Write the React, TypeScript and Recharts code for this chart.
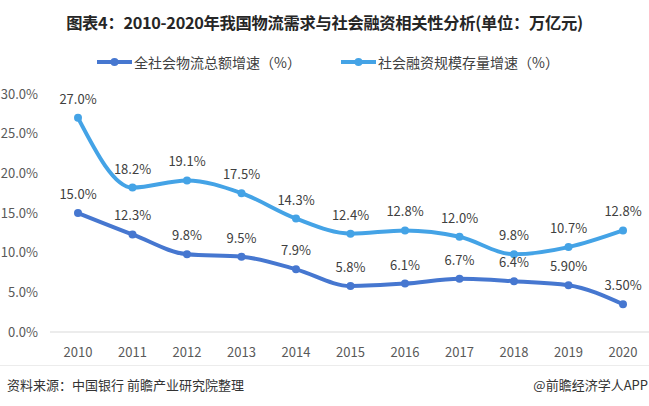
import React from "react";
import { LineChart, Line, XAxis, YAxis, LabelList } from "recharts";

const years = ["2010", "2011", "2012", "2013", "2014", "2015", "2016", "2017", "2018", "2019", "2020"];
const logisticsGrowth = [15.0, 12.3, 9.8, 9.5, 7.9, 5.8, 6.1, 6.7, 6.4, 5.9, 3.5];
const logisticsLabels = ["15.0%", "12.3%", "9.8%", "9.5%", "7.9%", "5.8%", "6.1%", "6.7%", "6.4%", "5.90%", "3.50%"];
const financingGrowth = [27.0, 18.2, 19.1, 17.5, 14.3, 12.4, 12.8, 12.0, 9.8, 10.7, 12.8];
const financingLabels = ["27.0%", "18.2%", "19.1%", "17.5%", "14.3%", "12.4%", "12.8%", "12.0%", "9.8%", "10.7%", "12.8%"];
const yTicks = [0, 5, 10, 15, 20, 25, 30];

const seriesNames = ["全社会物流总额增速（%）", "社会融资规模存量增速（%）"];
const titleText = "图表4：2010-2020年我国物流需求与社会融资相关性分析(单位：万亿元)";
const sourceText = "资料来源：中国银行 前瞻产业研究院整理";
const brandText = "@前瞻经济学人APP";

const data = years.map((y, i) => ({
  year: y,
  a: logisticsGrowth[i],
  aLabel: logisticsLabels[i],
  b: financingGrowth[i],
  bLabel: financingLabels[i],
}));

const C1 = "#4677D0";
const C2 = "#44A3E6";
const FONT = "'Noto Sans CJK SC', 'Noto Sans', sans-serif";

const makeLabel = (labels: string[]) => (props: any) => {
  const { x, y, index } = props;
  return (
    <text x={x} y={y - 14} textAnchor="middle" fontSize={13} fill="#404040" fontFamily={FONT}>
      {labels[index]}
    </text>
  );
};

const LegendItem = ({ color, text, left }: { color: string; text: string; left: number }) => (
  <div style={{ position: "absolute", left, top: 52, height: 20, display: "flex", alignItems: "center" }}>
    <svg width={36} height={12}>
      <line x1={0} y1={6} x2={35} y2={6} stroke={color} strokeWidth={4} />
      <circle cx={17.5} cy={6} r={4} fill={color} />
    </svg>
    <span style={{ fontSize: 14, lineHeight: "20px", color: "#404040", fontFamily: FONT, marginLeft: 1 }}>{text}</span>
  </div>
);

export default function App() {
  return (
    <div style={{ position: "absolute", left: 0, top: 0, width: 649, height: 406, background: "#fff", fontFamily: FONT }}>
      <div
        style={{
          position: "absolute",
          top: 10,
          left: 0,
          width: 649,
          height: 24,
          lineHeight: "24px",
          textAlign: "center",
          fontSize: 16.3,
          fontWeight: 700,
          color: "#262626",
          letterSpacing: -0.3,
        }}
      >
        {titleText}
      </div>
      <LegendItem color={C1} text={seriesNames[0]} left={97} />
      <LegendItem color={C2} text={seriesNames[1]} left={341} />
      <LineChart width={649} height={406} data={data} margin={{ top: 94, right: 0, left: 0, bottom: 44 }}>
        <XAxis
          dataKey="year"
          padding={{ left: 28, right: 26 }}
          axisLine={{ stroke: "#d9d9d9" }}
          tickLine={false}
          tickMargin={10}
          tick={{ fontSize: 13, fill: "#595959", fontFamily: FONT }}
          interval={0}
        />
        <YAxis
          width={50}
          domain={[0, 30]}
          ticks={yTicks}
          axisLine={false}
          tickLine={false}
          tickSize={0}
          tickMargin={12}
          tick={{ fontSize: 13, fill: "#595959", fontFamily: FONT }}
          tickFormatter={(v: number) => v.toFixed(1) + "%"}
        />
        <Line
          type="monotone"
          dataKey="b"
          stroke={C2}
          strokeWidth={4}
          dot={{ r: 4, fill: C2, stroke: C2, strokeWidth: 0 }}
          isAnimationActive={false}
        >
          <LabelList dataKey="bLabel" content={makeLabel(financingLabels)} />
        </Line>
        <Line
          type="monotone"
          dataKey="a"
          stroke={C1}
          strokeWidth={4}
          dot={{ r: 4, fill: C1, stroke: C1, strokeWidth: 0 }}
          isAnimationActive={false}
        >
          <LabelList dataKey="aLabel" content={makeLabel(logisticsLabels)} />
        </Line>
      </LineChart>
      <div style={{ position: "absolute", left: 0, top: 365, width: 649, height: 1, background: "#ececec" }} />
      <div style={{ position: "absolute", left: 7, top: 375, height: 20, lineHeight: "20px", fontSize: 13, color: "#333", fontFamily: FONT }}>{sourceText}</div>
      <div style={{ position: "absolute", right: 1, top: 375, height: 20, lineHeight: "20px", fontSize: 13, color: "#333", fontFamily: FONT }}>{brandText}</div>
    </div>
  );
}
